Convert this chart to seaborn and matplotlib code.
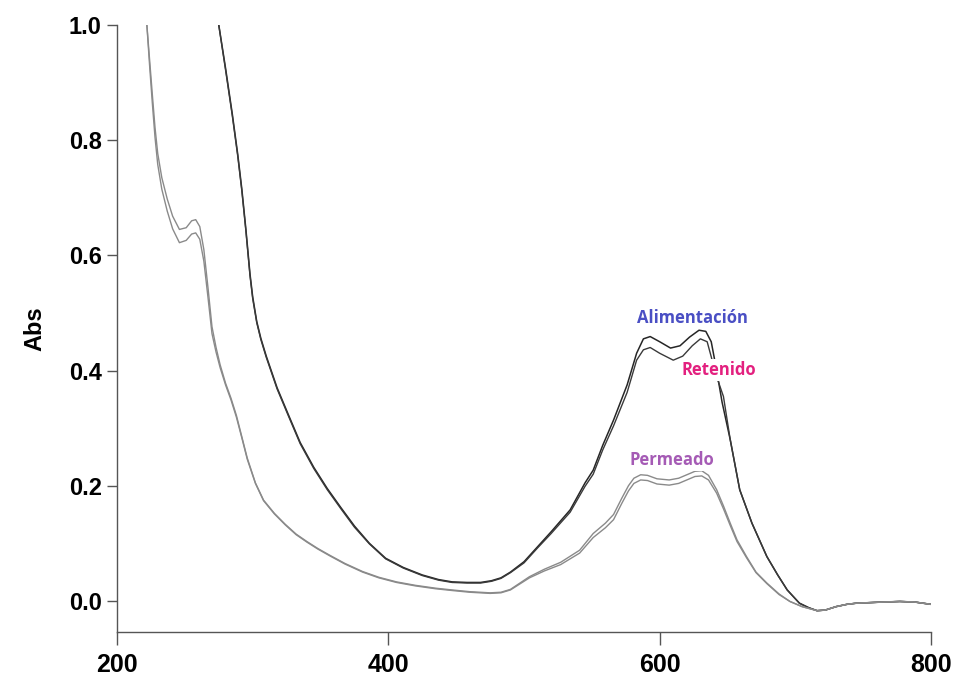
import matplotlib
matplotlib.use("Agg")
import matplotlib.pyplot as plt
import pandas as pd
import seaborn as sns

# UV-Vis spectra (wavelength in nm, absorbance)
alimentacion_nm = [275, 280, 285, 289, 292, 295, 298, 300, 303, 306, 310, 318, 326, 335,
                   345, 355, 365, 375, 386, 398, 411, 425, 437, 447, 458, 468, 476, 483,
                   490, 500, 510, 520, 534, 545, 551, 558, 566, 576, 583, 588, 593, 600,
                   608, 615, 622, 629, 634, 638, 642, 646, 652, 659, 668, 679, 687, 694,
                   703, 710, 716, 722, 730, 738, 745, 755, 765, 777, 788, 800]
alimentacion_abs = [1.00, 0.925, 0.845, 0.775, 0.715, 0.645, 0.568, 0.528, 0.485, 0.456,
                    0.425, 0.370, 0.325, 0.275, 0.232, 0.195, 0.162, 0.130, 0.100, 0.074,
                    0.058, 0.045, 0.037, 0.033, 0.032, 0.032, 0.035, 0.040, 0.050, 0.068,
                    0.094, 0.120, 0.158, 0.205, 0.227, 0.270, 0.314, 0.375, 0.430, 0.455,
                    0.459, 0.450, 0.439, 0.443, 0.458, 0.470, 0.468, 0.450, 0.400, 0.345,
                    0.280, 0.193, 0.135, 0.077, 0.045, 0.019, -0.004, -0.012, -0.017,
                    -0.016, -0.010, -0.006, -0.004, -0.003, -0.002, -0.001, -0.002, -0.006]

retenido_nm = [275, 280, 285, 289, 292, 295, 298, 300, 303, 306, 310, 318, 326, 335,
               345, 355, 365, 375, 386, 398, 411, 425, 437, 447, 458, 468, 476, 483,
               490, 500, 510, 520, 534, 545, 551, 558, 566, 576, 583, 588, 593, 600,
               610, 617, 624, 630, 635, 642, 647, 652, 659, 668, 679, 687, 694,
               703, 710, 716, 722, 730, 738, 745, 755, 765, 777, 788, 800]
retenido_abs = [1.00, 0.922, 0.842, 0.772, 0.712, 0.642, 0.565, 0.525, 0.483, 0.454,
                0.423, 0.368, 0.323, 0.273, 0.230, 0.193, 0.160, 0.128, 0.099, 0.073,
                0.057, 0.044, 0.036, 0.032, 0.031, 0.031, 0.034, 0.039, 0.049, 0.066,
                0.092, 0.117, 0.154, 0.199, 0.220, 0.262, 0.304, 0.362, 0.418, 0.436,
                0.440, 0.430, 0.418, 0.425, 0.443, 0.455, 0.450, 0.389, 0.355, 0.280,
                0.193, 0.135, 0.077, 0.045, 0.019, -0.004, -0.012, -0.017, -0.016,
                -0.010, -0.006, -0.004, -0.003, -0.002, -0.001, -0.002, -0.006]

permeado_nm = [222, 224, 226, 228, 230, 233, 237, 241, 246, 251, 255, 258, 261, 264, 267,
               270, 273, 276, 280, 284, 288, 292, 296, 302, 308, 316, 324, 332, 340, 348,
               357, 368, 381, 393, 406, 420, 435, 447, 460, 475, 483, 490, 504, 515, 527,
               541, 551, 560, 566, 572, 577, 581, 586, 591, 598, 607, 614, 620, 626, 631,
               636, 642, 647, 652, 657, 664, 671, 679, 688, 696, 705, 716, 722, 730, 738,
               745, 755, 765, 777, 788, 800]
permeado_abs = [1.00, 0.94, 0.88, 0.822, 0.777, 0.735, 0.698, 0.668, 0.645, 0.648, 0.660,
                0.662, 0.650, 0.610, 0.545, 0.476, 0.440, 0.410, 0.378, 0.352, 0.322,
                0.285, 0.248, 0.205, 0.175, 0.152, 0.133, 0.116, 0.103, 0.091, 0.079,
                0.065, 0.051, 0.041, 0.033, 0.027, 0.022, 0.019, 0.016, 0.014, 0.015,
                0.020, 0.042, 0.055, 0.067, 0.088, 0.117, 0.135, 0.150, 0.178, 0.200,
                0.213, 0.219, 0.218, 0.212, 0.210, 0.213, 0.219, 0.225, 0.226, 0.218,
                0.193, 0.165, 0.135, 0.106, 0.077, 0.050, 0.031, 0.012, -0.001, -0.010,
                -0.017, -0.016, -0.010, -0.006, -0.004, -0.003, -0.002, -0.001, -0.002,
                -0.006]

# second permeate run: slightly lower around the 260 nm shoulder and the visible bands
permeado2_nm = permeado_nm
permeado2_abs = [1.00, 0.93, 0.865, 0.805, 0.758, 0.715, 0.677, 0.646, 0.622, 0.626, 0.637,
                 0.639, 0.628, 0.590, 0.528, 0.464, 0.432, 0.405, 0.375, 0.349, 0.319,
                 0.283, 0.246, 0.204, 0.174, 0.151, 0.132, 0.115, 0.102, 0.090, 0.078,
                 0.064, 0.050, 0.040, 0.032, 0.026, 0.021, 0.018, 0.015, 0.013, 0.014,
                 0.019, 0.040, 0.052, 0.063, 0.083, 0.110, 0.127, 0.141, 0.169, 0.191,
                 0.204, 0.210, 0.209, 0.203, 0.201, 0.204, 0.210, 0.216, 0.217, 0.210,
                 0.187, 0.160, 0.131, 0.103, 0.075, 0.049, 0.030, 0.011, -0.001, -0.010,
                 -0.017, -0.016, -0.010, -0.006, -0.004, -0.003, -0.002, -0.001, -0.002,
                 -0.006]

x_ticks = [200, 400, 600, 800]
y_ticks = [0.0, 0.2, 0.4, 0.6, 0.8, 1.0]

sns.set_style("white")
plt.rcParams["font.family"] = ["Liberation Sans", "DejaVu Sans"]
plt.rcParams["text.color"] = "black"

fig = plt.figure(figsize=(9.6, 6.85), dpi=100)
ax = fig.add_axes([0.1219, 0.0774, 0.8479, 0.8861])

series = [
    (alimentacion_nm, alimentacion_abs, "#262626", 1.1),
    (retenido_nm, retenido_abs, "#3a3a3a", 1.0),
    (permeado_nm, permeado_abs, "#8a8a8a", 1.0),
    (permeado2_nm, permeado2_abs, "#8a8a8a", 1.0),
]
for nm, ab, col, lw in series:
    df = pd.DataFrame({"nm": nm, "abs": ab})
    sns.lineplot(data=df, x="nm", y="abs", ax=ax, color=col, linewidth=lw,
                 sort=False, estimator=None)

ax.set_xlim(200, 800)
ax.set_ylim(-0.054, 1.0)
ax.set_xticks(x_ticks)
ax.set_yticks(y_ticks)
ax.set_xticklabels([str(v) for v in x_ticks], fontsize=18, fontweight="bold",
                   color="black")
ax.set_yticklabels([f"{v:.1f}" for v in y_ticks], fontsize=17, fontweight="bold",
                   color="black")
ax.set_xlabel("")
ax.set_ylabel("Abs", fontsize=17, fontweight="bold", labelpad=16, color="black")

for side in ("top", "right"):
    ax.spines[side].set_visible(False)
for side in ("left", "bottom"):
    ax.spines[side].set_color("#555555")
    ax.spines[side].set_linewidth(1.0)
ax.tick_params(axis="x", bottom=True, direction="out", length=9, width=1,
               color="#555555", pad=6)
ax.tick_params(axis="y", left=True, direction="out", length=7, width=1,
               color="#555555", pad=4)

label_font = ["Open Sans", "DejaVu Sans"]
label_box = dict(facecolor="white", edgecolor="none", pad=1.5)
ax.text(624.5, 0.491, "Alimentación", color="#4a4fc4", fontsize=12, fontweight="bold",
        ha="center", va="center", family=label_font, bbox=label_box, zorder=5)
ax.text(643.6, 0.401, "Retenido", color="#e3207f", fontsize=12, fontweight="bold",
        ha="center", va="center", family=label_font, bbox=label_box, zorder=5)
ax.text(609, 0.245, "Permeado", color="#a55bb5", fontsize=12, fontweight="bold",
        ha="center", va="center", family=label_font, bbox=label_box, zorder=5)

fig.savefig("out.png", dpi=100)
